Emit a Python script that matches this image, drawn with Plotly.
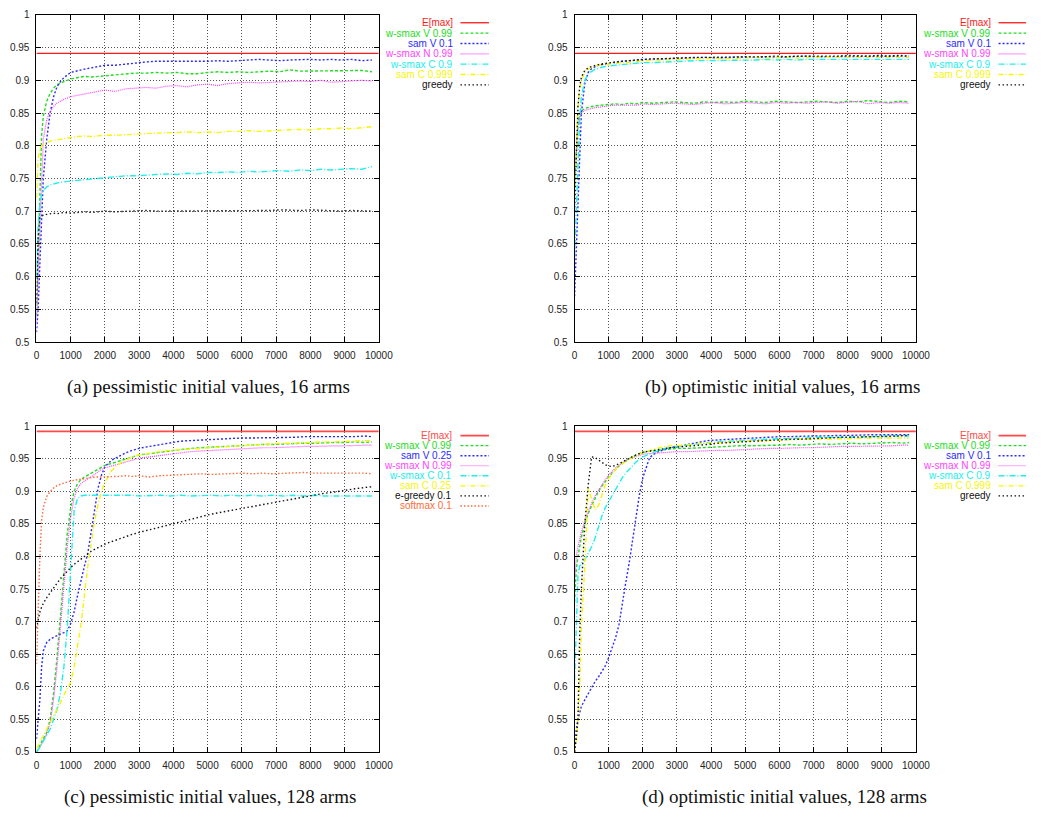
import plotly.graph_objects as go

W, H = 1046, 819

# ---------------- tick labels ----------------
X_TICKS = [0, 1000, 2000, 3000, 4000, 5000, 6000, 7000, 8000, 9000, 10000]
X_TICK_LABELS = ["0", "1000", "2000", "3000", "4000", "5000", "6000", "7000", "8000", "9000", "10000"]
Y_TICKS = [0.5, 0.55, 0.6, 0.65, 0.7, 0.75, 0.8, 0.85, 0.9, 0.95, 1.0]
Y_TICK_LABELS = ["0.5", "0.55", "0.6", "0.65", "0.7", "0.75", "0.8", "0.85", "0.9", "0.95", "1"]

# ---------------- panel (a)/(b): 16 arms ----------------
X16 = [0, 50, 100, 150, 200, 300, 400, 500, 600, 700, 800, 1000, 1200, 1400, 1600, 1800, 2000,
       2300, 2600, 2900, 3200, 3500, 3800, 4100, 4400, 4700, 5000, 5300, 5600, 5900, 6200, 6500,
       6800, 7100, 7400, 7700, 8000, 8300, 8600, 8900, 9200, 9500, 9800]
EMAX_X = [0, 10000]
A_EMAX = [0.941, 0.941]
A_WSMAX_V = [0.54, 0.64, 0.75, 0.815, 0.845, 0.868, 0.880, 0.888, 0.893, 0.896,
             0.898, 0.902, 0.904, 0.906, 0.905, 0.906, 0.907, 0.908, 0.909, 0.911,
             0.911, 0.912, 0.911, 0.912, 0.910, 0.910, 0.912, 0.913, 0.912, 0.913,
             0.912, 0.913, 0.914, 0.913, 0.916, 0.914, 0.914, 0.915, 0.914, 0.915,
             0.914, 0.915, 0.913]
A_SAM_V = [0.515, 0.55, 0.62, 0.69, 0.75, 0.81, 0.85, 0.875, 0.89, 0.898,
           0.904, 0.912, 0.915, 0.917, 0.919, 0.921, 0.923, 0.923, 0.925, 0.926,
           0.928, 0.929, 0.929, 0.928, 0.929, 0.928, 0.929, 0.930, 0.929, 0.930,
           0.931, 0.932, 0.931, 0.930, 0.931, 0.932, 0.932, 0.931, 0.932, 0.931,
           0.932, 0.930, 0.931]
A_WSMAX_N = [0.53, 0.60, 0.70, 0.77, 0.81, 0.840, 0.852, 0.860, 0.865, 0.868,
             0.871, 0.875, 0.877, 0.880, 0.882, 0.884, 0.885, 0.883, 0.887, 0.888,
             0.889, 0.888, 0.891, 0.892, 0.890, 0.893, 0.894, 0.892, 0.895, 0.896,
             0.897, 0.896, 0.897, 0.898, 0.899, 0.899, 0.898, 0.900, 0.897, 0.898,
             0.899, 0.900, 0.899]
A_WSMAX_C = [0.60, 0.68, 0.71, 0.725, 0.732, 0.737, 0.740, 0.742, 0.743, 0.744,
             0.745, 0.746, 0.747, 0.748, 0.749, 0.750, 0.752, 0.753, 0.754, 0.754,
             0.755, 0.756, 0.757, 0.756, 0.758, 0.757, 0.759, 0.759, 0.760, 0.759,
             0.761, 0.760, 0.761, 0.762, 0.761, 0.763, 0.762, 0.764, 0.763, 0.764,
             0.765, 0.764, 0.768]
A_SAM_C = [0.72, 0.78, 0.795, 0.80, 0.802, 0.805, 0.807, 0.808, 0.809, 0.810,
           0.811, 0.813, 0.814, 0.815, 0.814, 0.815, 0.816, 0.816, 0.817, 0.818,
           0.818, 0.819, 0.820, 0.820, 0.821, 0.820, 0.821, 0.820, 0.822, 0.822,
           0.823, 0.822, 0.823, 0.824, 0.824, 0.825, 0.824, 0.826, 0.826, 0.827,
           0.826, 0.828, 0.829]
A_GREEDY = [0.56, 0.66, 0.69, 0.692, 0.694, 0.695, 0.696, 0.697, 0.696, 0.697,
            0.698, 0.697, 0.698, 0.699, 0.698, 0.699, 0.700, 0.699, 0.700, 0.700,
            0.701, 0.700, 0.700, 0.701, 0.700, 0.701, 0.700, 0.701, 0.700, 0.701,
            0.701, 0.700, 0.701, 0.702, 0.701, 0.701, 0.702, 0.701, 0.701, 0.700,
            0.701, 0.701, 0.700]

B_EMAX = [0.941, 0.941]
B_WSMAX_V = [0.74, 0.80, 0.835, 0.848, 0.853, 0.857, 0.859, 0.860, 0.861, 0.861,
             0.862, 0.863, 0.864, 0.863, 0.865, 0.864, 0.866, 0.865, 0.866, 0.867,
             0.866, 0.865, 0.867, 0.866, 0.867, 0.866, 0.868, 0.867, 0.866, 0.868,
             0.867, 0.866, 0.867, 0.868, 0.867, 0.866, 0.868, 0.867, 0.869, 0.867,
             0.866, 0.868, 0.867]
B_SAM_V = [0.57, 0.64, 0.72, 0.80, 0.85, 0.895, 0.912, 0.918, 0.921, 0.923,
           0.924, 0.926, 0.928, 0.929, 0.930, 0.931, 0.932, 0.932, 0.933, 0.933,
           0.934, 0.934, 0.935, 0.934, 0.935, 0.935, 0.936, 0.935, 0.936, 0.935,
           0.936, 0.936, 0.937, 0.936, 0.936, 0.937, 0.936, 0.937, 0.936, 0.937,
           0.937, 0.936, 0.937]
B_WSMAX_N = [0.75, 0.80, 0.830, 0.843, 0.850, 0.854, 0.856, 0.857, 0.858, 0.859,
             0.860, 0.861, 0.862, 0.862, 0.863, 0.862, 0.864, 0.863, 0.864, 0.865,
             0.864, 0.863, 0.865, 0.866, 0.864, 0.865, 0.866, 0.865, 0.864, 0.866,
             0.865, 0.866, 0.865, 0.866, 0.867, 0.865, 0.866, 0.868, 0.864, 0.866,
             0.865, 0.866, 0.865]
B_WSMAX_C = [0.63, 0.70, 0.78, 0.84, 0.875, 0.900, 0.910, 0.914, 0.917, 0.918,
             0.920, 0.922, 0.923, 0.924, 0.925, 0.926, 0.927, 0.927, 0.928, 0.929,
             0.929, 0.930, 0.930, 0.930, 0.931, 0.930, 0.931, 0.931, 0.932, 0.931,
             0.932, 0.931, 0.932, 0.932, 0.933, 0.932, 0.932, 0.933, 0.932, 0.933,
             0.932, 0.933, 0.932]
B_SAM_C = [0.72, 0.81, 0.86, 0.885, 0.90, 0.912, 0.917, 0.920, 0.922, 0.923,
           0.924, 0.925, 0.926, 0.927, 0.928, 0.929, 0.930, 0.931, 0.931, 0.932,
           0.932, 0.933, 0.933, 0.934, 0.933, 0.934, 0.934, 0.935, 0.934, 0.935,
           0.935, 0.934, 0.935, 0.935, 0.936, 0.935, 0.935, 0.936, 0.935, 0.936,
           0.935, 0.936, 0.935]
B_GREEDY = [0.70, 0.80, 0.86, 0.89, 0.905, 0.915, 0.919, 0.921, 0.923, 0.924,
            0.925, 0.927, 0.928, 0.929, 0.930, 0.931, 0.932, 0.933, 0.933, 0.934,
            0.934, 0.935, 0.935, 0.935, 0.936, 0.935, 0.936, 0.936, 0.936, 0.937,
            0.936, 0.937, 0.937, 0.936, 0.937, 0.937, 0.938, 0.937, 0.937, 0.938,
            0.937, 0.938, 0.937]

# ---------------- panel (c)/(d): 128 arms ----------------
X128 = [0, 50, 100, 150, 200, 300, 400, 500, 600, 700, 800, 900, 1000, 1100, 1200, 1300, 1400,
        1500, 1600, 1700, 1800, 1900, 2000, 2200, 2400, 2600, 2800, 3000, 3300, 3600, 3900, 4200,
        4500, 4800, 5100, 5400, 5700, 6000, 6300, 6600, 6900, 7200, 7500, 7800, 8100, 8400, 8700,
        9000, 9300, 9600, 9800]
C_EMAX = [0.992, 0.992]
C_WSMAX_V = [0.50, 0.505, 0.51, 0.515, 0.52, 0.53, 0.55, 0.59, 0.645, 0.71,
             0.775, 0.835, 0.875, 0.900, 0.912, 0.918, 0.922, 0.925, 0.928, 0.931,
             0.934, 0.937, 0.940, 0.943, 0.946, 0.950, 0.953, 0.956, 0.958, 0.960,
             0.963, 0.965, 0.966, 0.967, 0.968, 0.969, 0.970, 0.971, 0.971, 0.972,
             0.972, 0.973, 0.973, 0.974, 0.974, 0.975, 0.975, 0.975, 0.976, 0.975,
             0.976]
C_SAM_V = [0.52, 0.545, 0.58, 0.63, 0.655, 0.668, 0.673, 0.676, 0.679, 0.681,
           0.683, 0.686, 0.697, 0.715, 0.740, 0.765, 0.785, 0.805, 0.840, 0.875,
           0.905, 0.925, 0.938, 0.948, 0.954, 0.959, 0.963, 0.966, 0.969, 0.972,
           0.975, 0.977, 0.978, 0.979, 0.980, 0.980, 0.981, 0.982, 0.982, 0.982,
           0.983, 0.983, 0.983, 0.984, 0.984, 0.983, 0.984, 0.984, 0.984, 0.985,
           0.984]
C_WSMAX_N = [0.50, 0.503, 0.507, 0.512, 0.517, 0.527, 0.545, 0.58, 0.63, 0.69,
             0.755, 0.815, 0.86, 0.89, 0.905, 0.912, 0.916, 0.919, 0.922, 0.926,
             0.930, 0.934, 0.936, 0.939, 0.942, 0.946, 0.948, 0.951, 0.953, 0.955,
             0.958, 0.960, 0.961, 0.962, 0.963, 0.964, 0.965, 0.965, 0.966, 0.967,
             0.967, 0.968, 0.968, 0.969, 0.969, 0.970, 0.970, 0.970, 0.971, 0.971,
             0.971]
C_WSMAX_C = [0.50, 0.503, 0.507, 0.512, 0.517, 0.525, 0.535, 0.55, 0.565, 0.59,
             0.63, 0.69, 0.79, 0.87, 0.889, 0.893, 0.894, 0.894, 0.895, 0.894,
             0.895, 0.895, 0.894, 0.895, 0.894, 0.895, 0.894, 0.893, 0.894, 0.894,
             0.893, 0.894, 0.893, 0.894, 0.894, 0.893, 0.894, 0.893, 0.894, 0.893,
             0.894, 0.893, 0.894, 0.893, 0.894, 0.893, 0.893, 0.894, 0.893, 0.893,
             0.893]
C_SAM_C = [0.505, 0.51, 0.515, 0.52, 0.525, 0.533, 0.543, 0.553, 0.563, 0.575,
           0.587, 0.597, 0.607, 0.63, 0.66, 0.695, 0.74, 0.785, 0.82, 0.855,
           0.88, 0.90, 0.914, 0.932, 0.942, 0.948, 0.953, 0.956, 0.959, 0.961,
           0.963, 0.964, 0.966, 0.967, 0.968, 0.969, 0.970, 0.971, 0.972, 0.972,
           0.973, 0.974, 0.974, 0.975, 0.975, 0.976, 0.976, 0.977, 0.977, 0.978,
           0.978]
C_EGREEDY = [0.69, 0.705, 0.715, 0.722, 0.728, 0.737, 0.745, 0.752, 0.759, 0.766,
             0.772, 0.778, 0.783, 0.788, 0.792, 0.797, 0.801, 0.805, 0.808, 0.811,
             0.814, 0.817, 0.819, 0.823, 0.827, 0.831, 0.834, 0.837, 0.841, 0.845,
             0.849, 0.854, 0.858, 0.862, 0.865, 0.868, 0.871, 0.874, 0.877, 0.880,
             0.883, 0.886, 0.889, 0.891, 0.894, 0.897, 0.899, 0.902, 0.904, 0.906,
             0.907]
C_SOFTMAX = [0.635, 0.73, 0.80, 0.855, 0.875, 0.892, 0.900, 0.905, 0.909, 0.911,
             0.913, 0.915, 0.916, 0.917, 0.918, 0.919, 0.920, 0.921, 0.921, 0.922,
             0.922, 0.922, 0.922, 0.923, 0.923, 0.924, 0.923, 0.924, 0.922, 0.924,
             0.925, 0.926, 0.926, 0.927, 0.926, 0.927, 0.927, 0.928, 0.927, 0.928,
             0.927, 0.928, 0.928, 0.929, 0.928, 0.928, 0.929, 0.928, 0.929, 0.928,
             0.927]

D_EMAX = [0.992, 0.992]
D_WSMAX_V = [0.73, 0.78, 0.80, 0.815, 0.83, 0.85, 0.866, 0.878, 0.89, 0.90,
             0.908, 0.916, 0.922, 0.928, 0.934, 0.939, 0.943, 0.947, 0.950, 0.953,
             0.956, 0.958, 0.960, 0.962, 0.963, 0.964, 0.965, 0.966, 0.966, 0.967,
             0.968, 0.968, 0.969, 0.970, 0.970, 0.970, 0.971, 0.971, 0.972, 0.971,
             0.972, 0.973, 0.972, 0.973, 0.974, 0.973, 0.974, 0.974, 0.975, 0.974,
             0.975]
D_SAM_V = [0.50, 0.535, 0.55, 0.56, 0.57, 0.58, 0.59, 0.60, 0.608, 0.615,
           0.623, 0.632, 0.645, 0.66, 0.675, 0.695, 0.73, 0.76, 0.79, 0.825,
           0.862, 0.895, 0.921, 0.952, 0.960, 0.964, 0.967, 0.969, 0.972, 0.976,
           0.978, 0.979, 0.980, 0.981, 0.982, 0.983, 0.983, 0.984, 0.984, 0.985,
           0.985, 0.985, 0.986, 0.986, 0.986, 0.987, 0.987, 0.987, 0.987, 0.988,
           0.987]
D_WSMAX_N = [0.76, 0.80, 0.815, 0.828, 0.838, 0.855, 0.87, 0.882, 0.893, 0.902,
             0.910, 0.918, 0.925, 0.931, 0.936, 0.940, 0.944, 0.947, 0.950, 0.952,
             0.954, 0.956, 0.957, 0.958, 0.959, 0.960, 0.960, 0.961, 0.961, 0.962,
             0.962, 0.963, 0.963, 0.964, 0.965, 0.965, 0.966, 0.966, 0.967, 0.967,
             0.967, 0.968, 0.968, 0.969, 0.969, 0.969, 0.970, 0.970, 0.970, 0.971,
             0.971]
D_WSMAX_C = [0.61, 0.70, 0.77, 0.785, 0.79, 0.795, 0.805, 0.815, 0.828, 0.845,
             0.862, 0.875, 0.884, 0.893, 0.903, 0.913, 0.921, 0.928, 0.934, 0.940,
             0.945, 0.949, 0.953, 0.958, 0.962, 0.965, 0.967, 0.969, 0.971, 0.973,
             0.975, 0.976, 0.977, 0.978, 0.979, 0.980, 0.980, 0.981, 0.981, 0.982,
             0.982, 0.983, 0.983, 0.983, 0.984, 0.984, 0.984, 0.985, 0.985, 0.985,
             0.985]
D_SAM_C = [0.50, 0.52, 0.55, 0.60, 0.69, 0.785, 0.905, 0.89, 0.872, 0.878,
           0.895, 0.91, 0.92, 0.928, 0.934, 0.939, 0.943, 0.946, 0.949, 0.952,
           0.955, 0.957, 0.959, 0.963, 0.966, 0.968, 0.970, 0.970, 0.972, 0.973,
           0.974, 0.975, 0.976, 0.977, 0.977, 0.978, 0.978, 0.979, 0.979, 0.980,
           0.980, 0.980, 0.981, 0.981, 0.981, 0.982, 0.982, 0.982, 0.982, 0.983,
           0.982]
D_GREEDY = [0.50, 0.52, 0.55, 0.68, 0.75, 0.85, 0.91, 0.953, 0.952, 0.948,
            0.944, 0.941, 0.939, 0.938, 0.940, 0.942, 0.945, 0.948, 0.951, 0.954,
            0.956, 0.958, 0.960, 0.962, 0.964, 0.965, 0.967, 0.968, 0.969, 0.971,
            0.972, 0.974, 0.975, 0.976, 0.977, 0.978, 0.978, 0.979, 0.980, 0.980,
            0.981, 0.982, 0.982, 0.983, 0.983, 0.984, 0.984, 0.984, 0.985, 0.985,
            0.986]

CAPTIONS = ["(a) pessimistic initial values, 16 arms",
            "(b) optimistic initial values, 16 arms",
            "(c) pessimistic initial values, 128 arms",
            "(d) optimistic initial values, 128 arms"]

# ---------------- styles ----------------
STY = {
    "red": dict(color="#ff1a1a", dash="solid", width=1.3),
    "red2": dict(color="#ff4a4a", dash="solid", width=1.8),
    "green": dict(color="#22dd22", dash="3px,2px", width=1.4),
    "blue": dict(color="#2a2aff", dash="2px,2px", width=1.4),
    "magenta": dict(color="#ff44ff", dash="1px,1px", width=1.2),
    "cyan": dict(color="#22eeee", dash="6px,2px,1px,2px", width=1.4),
    "yellow": dict(color="#f5f50a", dash="5px,2px,1px,2px", width=1.4),
    "black": dict(color="#111111", dash="1.5px,2.5px", width=1.4),
    "orange": dict(color="#ff6a3a", dash="1.5px,2px", width=1.4),
}

PANELS = [
    dict(px=(34, 382), py=(9, 341), leg_text_x=459, leg_line=(465, 494), leg_y0=17, leg_dy=10.5,
         cap=(209, 387), series=[
             ("E[max]", EMAX_X, A_EMAX, "red"),
             ("w-smax V 0.99", X16, A_WSMAX_V, "green"),
             ("sam V 0.1", X16, A_SAM_V, "blue"),
             ("w-smax N 0.99", X16, A_WSMAX_N, "magenta"),
             ("w-smax C 0.9", X16, A_WSMAX_C, "cyan"),
             ("sam C 0.999", X16, A_SAM_C, "yellow"),
             ("greedy", X16, A_GREEDY, "black")]),
    dict(px=(581, 928), py=(9, 341), leg_text_x=1006, leg_line=(1012, 1040), leg_y0=17, leg_dy=10.5,
         cap=(792, 387), series=[
             ("E[max]", EMAX_X, B_EMAX, "red"),
             ("w-smax V 0.99", X16, B_WSMAX_V, "green"),
             ("sam V 0.1", X16, B_SAM_V, "blue"),
             ("w-smax N 0.99", X16, B_WSMAX_N, "magenta"),
             ("w-smax C 0.9", X16, B_WSMAX_C, "cyan"),
             ("sam C 0.999", X16, B_SAM_C, "yellow"),
             ("greedy", X16, B_GREEDY, "black")]),
    dict(px=(34, 382), py=(426.5, 757), leg_text_x=458, leg_line=(465, 494), leg_y0=436, leg_dy=10.2,
         cap=(210, 803), series=[
             ("E[max]", EMAX_X, C_EMAX, "red2"),
             ("w-smax V 0.99", X128, C_WSMAX_V, "green"),
             ("sam V 0.25", X128, C_SAM_V, "blue"),
             ("w-smax N 0.99", X128, C_WSMAX_N, "magenta"),
             ("w-smax C 0.1", X128, C_WSMAX_C, "cyan"),
             ("sam C 0.25", X128, C_SAM_C, "yellow"),
             ("e-greedy 0.1", X128, C_EGREEDY, "black"),
             ("softmax 0.1", X128, C_SOFTMAX, "orange")]),
    dict(px=(581, 928), py=(426.5, 757), leg_text_x=1006, leg_line=(1012, 1040), leg_y0=436, leg_dy=10.2,
         cap=(794, 803), series=[
             ("E[max]", EMAX_X, D_EMAX, "red2"),
             ("w-smax V 0.99", X128, D_WSMAX_V, "green"),
             ("sam V 0.1", X128, D_SAM_V, "blue"),
             ("w-smax N 0.99", X128, D_WSMAX_N, "magenta"),
             ("w-smax C 0.9", X128, D_WSMAX_C, "cyan"),
             ("sam C 0.999", X128, D_SAM_C, "yellow"),
             ("greedy", X128, D_GREEDY, "black")]),
]


def fx(p):
    return p / W


def fy(p):
    return 1 - p / H


fig = go.Figure()
annotations = []
shapes = []
layout = {}
SANS = "Liberation Sans, Arial, sans-serif"

for i, pan in enumerate(PANELS):
    n = "" if i == 0 else str(i + 1)
    xa, ya = "x" + n, "y" + n
    for name, xs, ys, sty in pan["series"]:
        s = STY[sty]
        fig.add_trace(go.Scatter(x=xs, y=ys, mode="lines", name=name, showlegend=False,
                                 xaxis=xa, yaxis=ya,
                                 line=dict(color=s["color"], dash=s["dash"], width=s["width"])))
    common = dict(showgrid=True, gridcolor="#555555", griddash="1px,2px", gridwidth=1,
                  showline=True, linecolor="black", linewidth=1, mirror="ticks",
                  ticks="inside", ticklen=5, tickcolor="black", zeroline=False,
                  tickfont=dict(family=SANS, size=10, color="#222222"))
    layout["xaxis" + n] = dict(common, domain=[fx(pan["px"][0]), fx(pan["px"][1])], range=[0, 10000],
                               tickmode="array", tickvals=X_TICKS, ticktext=X_TICK_LABELS,
                               anchor=ya, ticklabelstandoff=4)
    layout["yaxis" + n] = dict(common, domain=[fy(pan["py"][1]), fy(pan["py"][0])], range=[0.5, 1.0],
                               tickmode="array", tickvals=Y_TICKS, ticktext=Y_TICK_LABELS,
                               anchor=xa, ticklabelstandoff=4)
    # key drawn like gnuplot: text right-aligned, line sample to the right
    for k, (name, xs, ys, sty) in enumerate(pan["series"]):
        s = STY[sty]
        yy = pan["leg_y0"] + k * pan["leg_dy"]
        annotations.append(dict(xref="paper", yref="paper", x=fx(pan["leg_text_x"]), y=fy(yy),
                                xanchor="right", yanchor="middle", showarrow=False, text=name,
                                font=dict(family=SANS, size=10, color=s["color"])))
        shapes.append(dict(type="line", xref="paper", yref="paper",
                           x0=fx(pan["leg_line"][0]), x1=fx(pan["leg_line"][1]), y0=fy(yy), y1=fy(yy),
                           line=dict(color=s["color"], dash=s["dash"], width=s["width"])))
    annotations.append(dict(xref="paper", yref="paper", x=fx(pan["cap"][0]), y=fy(pan["cap"][1]),
                            xanchor="center", yanchor="middle", showarrow=False, text=CAPTIONS[i],
                            font=dict(family="Liberation Serif, DejaVu Serif, serif", size=19,
                                      color="#111111")))

fig.update_layout(width=W, height=H, margin=dict(l=0, r=0, t=0, b=0),
                  paper_bgcolor="white", plot_bgcolor="white",
                  annotations=annotations, shapes=shapes, **layout)

fig.write_html("out.html")
